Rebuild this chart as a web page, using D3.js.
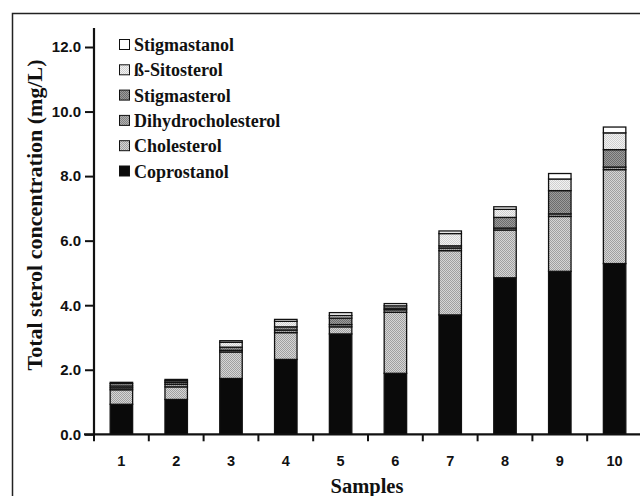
<!DOCTYPE html>
<html>
<head>
<meta charset="utf-8">
<script src="https://cdn.jsdelivr.net/npm/d3@7"></script>
<style>
  html, body { margin: 0; padding: 0; background: #fff; }
  svg { display: block; }
</style>
</head>
<body>
<svg id="chart" width="640" height="496"></svg>
<script>
// ---- data ----
const samples = ["1", "2", "3", "4", "5", "6", "7", "8", "9", "10"];
const coprostanol        = [0.93, 1.08, 1.73, 2.32, 3.11, 1.89, 3.70, 4.85, 5.05, 5.29];
const cholesterol        = [0.45, 0.39, 0.82, 0.83, 0.22, 1.89, 1.99, 1.48, 1.70, 2.91];
const dihydrocholesterol = [0.06, 0.08, 0.05, 0.08, 0.07, 0.08, 0.08, 0.06, 0.08, 0.08];
const stigmasterol       = [0.06, 0.06, 0.10, 0.10, 0.20, 0.05, 0.07, 0.33, 0.72, 0.54];
const sitosterol         = [0.07, 0.05, 0.15, 0.17, 0.08, 0.07, 0.38, 0.25, 0.36, 0.52];
const stigmastanol       = [0.04, 0.04, 0.05, 0.06, 0.09, 0.07, 0.08, 0.08, 0.17, 0.18];
const seriesNames = ["Coprostanol", "Cholesterol", "Dihydrocholesterol", "Stigmasterol", "ß-Sitosterol", "Stigmastanol"];
const yTicks = [0, 2, 4, 6, 8, 10, 12];
const xTitle = "Samples";
const yTitle = "Total sterol concentration (mg/L)";

const seriesValues = [coprostanol, cholesterol, dihydrocholesterol, stigmasterol, sitosterol, stigmastanol];
const table = samples.map((s, i) => {
  const row = { sample: s };
  seriesNames.forEach((n, k) => row[n] = seriesValues[k][i]);
  return row;
});

// ---- styles ----
const patternDefs = {
  "Coprostanol":        { base: "#0a0a0a", dot: "#0a0a0a" },
  "Cholesterol":        { base: "#d6d6d6", dot: "#a0a0a0" },
  "Dihydrocholesterol": { base: "#b0b0b0", dot: "#848484" },
  "Stigmasterol":       { base: "#9c9c9c", dot: "#6c6c6c" },
  "ß-Sitosterol":       { base: "#f2f2f2", dot: "#d0d0d0" },
  "Stigmastanol":       { base: "#ffffff", dot: "#ffffff" }
};

const svg = d3.select("#chart");
const defs = svg.append("defs");
seriesNames.forEach((n, i) => {
  const p = defs.append("pattern")
    .attr("id", "pat" + i)
    .attr("patternUnits", "userSpaceOnUse")
    .attr("width", 2).attr("height", 2);
  p.append("rect").attr("width", 2).attr("height", 2).attr("fill", patternDefs[n].base);
  p.append("rect").attr("x", 0).attr("y", 0).attr("width", 1).attr("height", 1).attr("fill", patternDefs[n].dot);
  p.append("rect").attr("x", 1).attr("y", 1).attr("width", 1).attr("height", 1).attr("fill", patternDefs[n].dot);
});
const fillOf = n => n === "Coprostanol" ? "#0a0a0a" : "url(#pat" + seriesNames.indexOf(n) + ")";

// frame
svg.append("path")
  .attr("d", "M12.5,500 L12.5,13.5 L645,13.5")
  .attr("fill", "none").attr("stroke", "#222").attr("stroke-width", 1.5);

// ---- scales ----
const x0 = 94, x1 = 642;
const y = d3.scaleLinear().domain([0, 12]).range([434.3, 47]);
const x = d3.scaleBand().domain(samples).range([x0, x1]).paddingInner(0.59).paddingOuter(0.295);

const stack = d3.stack().keys(seriesNames);
const stacked = stack(table);

// ---- bars ----
const g = svg.append("g");
stacked.forEach(layer => {
  g.append("g")
    .selectAll("rect")
    .data(layer)
    .join("rect")
    .attr("x", d => x(d.data.sample))
    .attr("width", x.bandwidth())
    .attr("y", d => y(d[1]))
    .attr("height", d => Math.max(0, y(d[0]) - y(d[1])))
    .attr("fill", fillOf(layer.key))
    .attr("stroke", "#111")
    .attr("stroke-width", 1.3);
});

// ---- y axis ----
const yAxis = d3.axisLeft(y).tickValues(yTicks).tickFormat(d3.format(".1f")).tickSize(9).tickPadding(4);
const ya = svg.append("g").attr("transform", `translate(${x0},0)`).call(yAxis);
ya.select(".domain").remove();
ya.selectAll(".tick line").attr("stroke", "#111").attr("stroke-width", 2);
ya.selectAll("text")
  .attr("font-family", "'Liberation Sans', Arial, sans-serif")
  .attr("font-weight", "bold").attr("font-size", 15).attr("fill", "#111");
svg.append("line")
  .attr("x1", x0).attr("x2", x0).attr("y1", 28).attr("y2", y(0) + 1)
  .attr("stroke", "#111").attr("stroke-width", 2.2);

// ---- x axis ----
svg.append("line")
  .attr("x1", x0 - 10).attr("x2", 645).attr("y1", y(0)).attr("y2", y(0))
  .attr("stroke", "#111").attr("stroke-width", 2.2);
const step = x.step();
const bounds = d3.range(0, samples.length + 1).map(i => x0 + i * step);
svg.append("g").selectAll("line").data(bounds).join("line")
  .attr("x1", d => d).attr("x2", d => d)
  .attr("y1", y(0)).attr("y2", y(0) + 7)
  .attr("stroke", "#111").attr("stroke-width", 2);
svg.append("g").selectAll("text").data(samples).join("text")
  .attr("x", d => x(d) + x.bandwidth() / 2)
  .attr("y", 466)
  .attr("text-anchor", "middle")
  .attr("font-family", "'Liberation Sans', Arial, sans-serif")
  .attr("font-weight", "bold").attr("font-size", 14.5).attr("fill", "#111")
  .text(d => d);

// ---- titles ----
svg.append("text")
  .attr("x", 367).attr("y", 493)
  .attr("text-anchor", "middle")
  .attr("font-family", "'Liberation Serif', 'Times New Roman', serif")
  .attr("font-weight", "bold").attr("font-size", 20.5).attr("fill", "#111")
  .text(xTitle);
svg.append("text")
  .attr("transform", "translate(42,215) rotate(-90)")
  .attr("text-anchor", "middle")
  .attr("font-family", "'Liberation Serif', 'Times New Roman', serif")
  .attr("font-weight", "bold").attr("font-size", 22).attr("fill", "#111")
  .text(yTitle);

// ---- legend ----
const legendOrder = seriesNames.slice().reverse();
const lg = svg.append("g");
legendOrder.forEach((n, i) => {
  const cy = 45 + i * 25.3;
  lg.append("rect")
    .attr("x", 119.5).attr("y", cy - 5.5).attr("width", 10).attr("height", 10)
    .attr("fill", fillOf(n)).attr("stroke", "#111").attr("stroke-width", 1);
  lg.append("text")
    .attr("x", 134).attr("y", cy + 6)
    .attr("font-family", "'Liberation Serif', 'Times New Roman', serif")
    .attr("font-weight", "bold").attr("font-size", 18).attr("fill", "#111")
    .text(n);
});
</script>
</body>
</html>
